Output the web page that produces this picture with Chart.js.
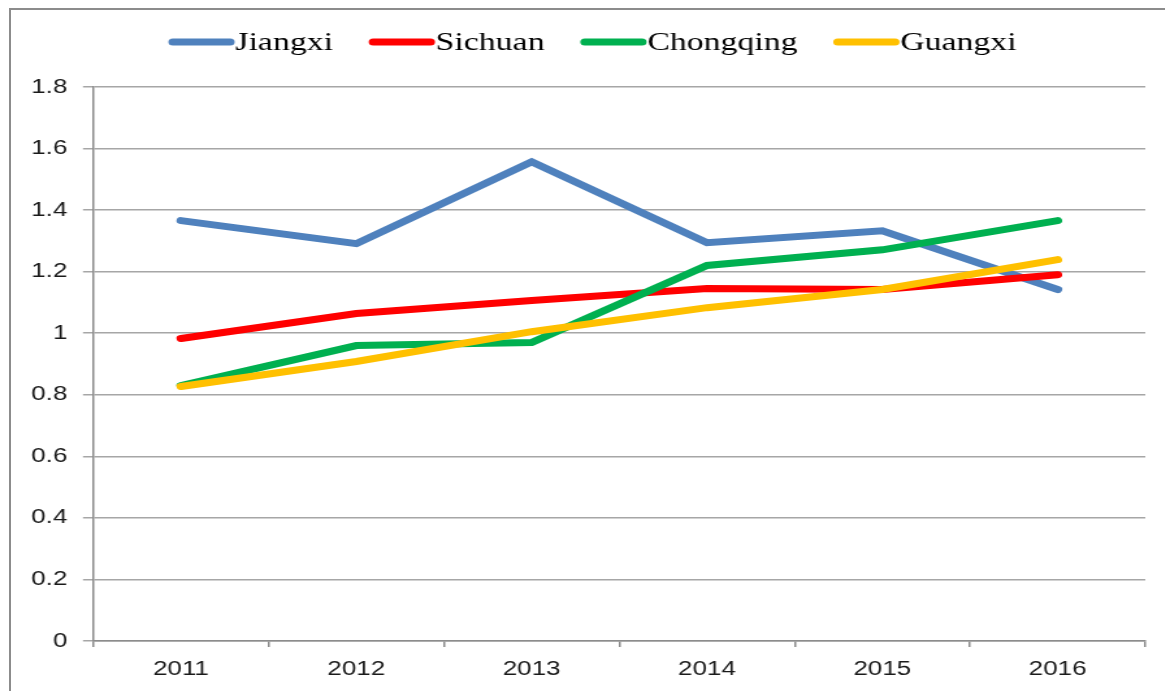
<!DOCTYPE html>
<html>
<head>
    <title>Line Chart</title>
    <script src="https://cdn.jsdelivr.net/npm/chart.js"></script>
    <style>
        body { margin: 0; background: #fff; overflow: hidden; }
        /* the original picture is stretched sideways, so draw narrow and scale */
        #wrap {
            position: absolute; left: 0; top: 0;
            width: 896px; height: 691px;
            transform: scaleX(1.3); transform-origin: 0 0;
        }
        #frame {
            position: absolute; left: 9px; top: 8px;
            width: 1200px; height: 700px;
            border-top: 2px solid #8c8c8c; border-left: 2px solid #8c8c8c;
            pointer-events: none;
        }
    </style>
</head>
<body>

<div id="wrap"><canvas id="myChart"></canvas></div>
<div id="frame"></div>

<script>
    const years = ['2011', '2012', '2013', '2014', '2015', '2016'];
    const jiangxi   = [1.366, 1.291, 1.557, 1.294, 1.333, 1.142];
    const sichuan   = [0.983, 1.064, 1.106, 1.145, 1.142, 1.190];
    const chongqing = [0.830, 0.960, 0.970, 1.220, 1.271, 1.366];
    const guangxi   = [0.827, 0.908, 1.005, 1.083, 1.142, 1.239];
    const yTickLabels = ['0', '0.2', '0.4', '0.6', '0.8', '1', '1.2', '1.4', '1.6', '1.8'];

    const tickFont = { family: '"Liberation Sans", Arial, sans-serif', size: 20 };

    function series(label, values, color, order) {
        return {
            label: label,
            data: values,
            borderColor: color,
            backgroundColor: color,
            borderWidth: 7,
            borderCapStyle: 'round',
            pointRadius: 0,
            tension: 0,
            fill: false,
            order: order
        };
    }

    // legend drawn by hand: short thick line right next to the name
    const topLegend = {
        id: 'topLegend',
        afterDraw(chart) {
            const ctx = chart.ctx;
            const sets = chart.data.datasets;
            const lineLen = 50, gapText = 1, gapItem = 28, y = 42;
            ctx.save();
            ctx.font = '26px "Liberation Serif", "Times New Roman", serif';
            const widths = sets.map(d => ctx.measureText(d.label).width);
            const total = widths.reduce((a, b) => a + b, 0)
                + sets.length * (lineLen + gapText) + (sets.length - 1) * gapItem;
            let x = chart.width / 2 + 8 - total / 2;
            sets.forEach((d, i) => {
                ctx.strokeStyle = d.borderColor;
                ctx.lineWidth = 7;
                ctx.lineCap = 'round';
                ctx.beginPath();
                ctx.moveTo(x + 3, y);
                ctx.lineTo(x + lineLen - 3, y);
                ctx.stroke();
                ctx.fillStyle = '#000';
                ctx.textBaseline = 'alphabetic';
                ctx.fillText(d.label, x + lineLen + gapText, 49.5);
                x += lineLen + gapText + widths[i] + gapItem;
            });
            ctx.restore();
        }
    };

    const config = {
        type: 'line',
        data: {
            labels: years,
            datasets: [
                series('Jiangxi', jiangxi, '#4F81BD', 3),
                series('Sichuan', sichuan, '#FF0000', 2),
                series('Chongqing', chongqing, '#00B050', 1),
                series('Guangxi', guangxi, '#FFC000', 0)
            ]
        },
        options: {
            responsive: true,
            maintainAspectRatio: false,
            animation: false,
            layout: { padding: { left: 12, right: 15, top: 87, bottom: 0 } },
            scales: {
                x: {
                    offset: true,
                    grid: {
                        offset: true,
                        drawOnChartArea: false,
                        tickLength: 6,
                        color: '#8c8c8c',
                        lineWidth: 1.5
                    },
                    border: { color: '#8c8c8c', width: 1.5 },
                    ticks: { font: tickFont, color: '#1a1a1a', padding: 10 }
                },
                y: {
                    min: 0,
                    max: 1.8,
                    grid: { color: '#a6a6a6', lineWidth: 1.5, tickLength: 8 },
                    border: { color: '#8c8c8c', width: 1.5 },
                    ticks: {
                        stepSize: 0.2,
                        font: tickFont,
                        color: '#1a1a1a',
                        padding: 12,
                        callback: function(value, index) {
                            return yTickLabels[index];
                        }
                    }
                }
            },
            plugins: {
                legend: { display: false },
                tooltip: { enabled: false }
            }
        },
        plugins: [topLegend]
    };

    new Chart(document.getElementById('myChart'), config);
</script>

</body>
</html>
